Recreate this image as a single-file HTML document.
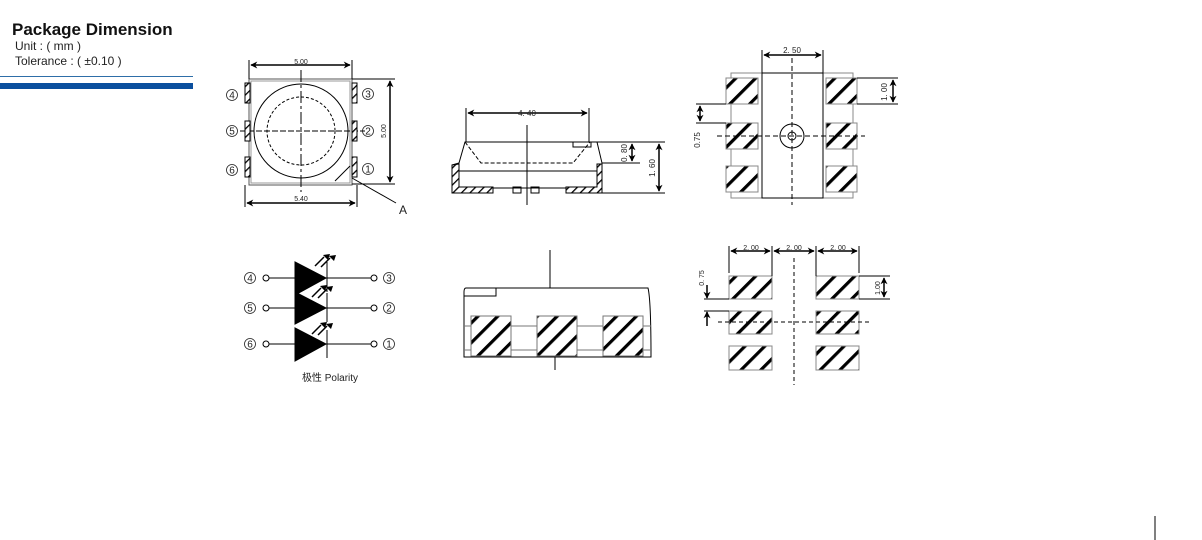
<!DOCTYPE html>
<html><head><meta charset="utf-8"><style>
html,body{margin:0;padding:0;background:#fff;width:1202px;height:540px;overflow:hidden}
svg{display:block}
text{font-family:"Liberation Sans","Noto Sans CJK SC",sans-serif}
</style></head><body>
<svg width="1202" height="540" viewBox="0 0 1202 540" xmlns="http://www.w3.org/2000/svg">
<defs>
<pattern id="h" patternUnits="userSpaceOnUse" width="14" height="14" patternTransform="rotate(45)">
<rect width="14" height="14" fill="#fff"/><rect x="0" y="0" width="3.2" height="14" fill="#000"/>
</pattern>
<pattern id="hs" patternUnits="userSpaceOnUse" width="6" height="6" patternTransform="rotate(45)">
<rect width="6" height="6" fill="#fff"/><rect x="0" y="0" width="1.3" height="6" fill="#000"/>
</pattern>
<marker id="a" viewBox="0 0 10 10" refX="9" refY="5" markerWidth="9" markerHeight="7" markerUnits="userSpaceOnUse" orient="auto-start-reverse"><path d="M0,0 L10,5 L0,10 L3,5z" fill="#000"/></marker>
<marker id="b" viewBox="0 0 10 10" refX="9" refY="5" markerWidth="7" markerHeight="8" markerUnits="userSpaceOnUse" orient="auto-start-reverse"><path d="M0,0 L10,5 L0,10 L3,5z" fill="#000"/></marker>
</defs>
<!-- header -->
<text x="12" y="35" font-size="17" font-weight="bold" fill="#111">Package Dimension</text>
<text x="15" y="50" font-size="12" fill="#222">Unit : ( mm )</text>
<text x="15" y="65" font-size="12" fill="#222">Tolerance : ( ±0.10 )</text>
<rect x="0" y="76" width="193" height="1" fill="#2e6ea8"/>
<rect x="0" y="83" width="193" height="6" fill="#0b4f9e"/>

<g stroke="#000" fill="none" stroke-width="1">
<!-- top view -->
<rect x="249" y="79" width="103" height="106" stroke="#555"/>
<rect x="251" y="81" width="99" height="102" stroke="#999"/>
<circle cx="301" cy="131" r="47"/>
<circle cx="301" cy="131" r="34" stroke-dasharray="3,2"/>
<line x1="301" y1="70" x2="301" y2="192" stroke-dasharray="12,3,3,3"/>
<line x1="240" y1="131" x2="365" y2="131" stroke-dasharray="6,2"/>
<line x1="335" y1="181" x2="350" y2="166"/>
<rect x="245" y="83" width="5" height="20" fill="url(#hs)"/>
<rect x="245" y="121" width="5" height="20" fill="url(#hs)"/>
<rect x="245" y="157" width="5" height="20" fill="url(#hs)"/>
<rect x="352" y="83" width="5" height="20" fill="url(#hs)"/>
<rect x="352" y="121" width="5" height="20" fill="url(#hs)"/>
<rect x="352" y="157" width="5" height="20" fill="url(#hs)"/>
<line x1="249" y1="60" x2="249" y2="79"/><line x1="352" y1="60" x2="352" y2="79"/>
<line x1="251" y1="65" x2="350" y2="65" marker-start="url(#a)" marker-end="url(#a)" stroke-width="1.5"/>
<line x1="352" y1="79" x2="395" y2="79"/><line x1="352" y1="184" x2="395" y2="184"/>
<line x1="390" y1="81" x2="390" y2="182" marker-start="url(#a)" marker-end="url(#a)" stroke-width="1.5"/>
<line x1="245" y1="185" x2="245" y2="207"/><line x1="357" y1="185" x2="357" y2="207"/>
<line x1="247" y1="203" x2="355" y2="203" marker-start="url(#a)" marker-end="url(#a)" stroke-width="1.5"/>
<line x1="352" y1="178" x2="396" y2="203"/>
<!-- side view -->
<line x1="466" y1="108" x2="466" y2="142"/><line x1="589" y1="108" x2="589" y2="142"/>
<line x1="468" y1="113" x2="587" y2="113" marker-start="url(#a)" marker-end="url(#a)" stroke-width="1.5"/>
<path d="M465,142 L597,142 L602,163 L602,193 L566,193 L566,188 L493,188 L493,193 L452,193 L452,165 L459,163 Z"/>
<line x1="455" y1="171" x2="602" y2="171"/>
<path d="M465,142 L481,163 L573,163 L590,142" stroke-dasharray="4,2"/>
<rect x="573" y="142" width="18" height="5"/>
<rect x="513" y="187" width="8" height="6"/><rect x="531" y="187" width="8" height="6"/>
<path d="M452,165 L459,164 L459,187 L493,187 L493,193 L452,193 Z" fill="url(#hs)"/>
<path d="M602,164 L597,164 L597,187 L566,187 L566,193 L602,193 Z" fill="url(#hs)"/>
<line x1="527" y1="125" x2="527" y2="205"/>
<line x1="597" y1="142" x2="665" y2="142"/><line x1="602" y1="163" x2="640" y2="163"/><line x1="602" y1="193" x2="665" y2="193"/>
<line x1="632" y1="144" x2="632" y2="161" marker-start="url(#b)" marker-end="url(#b)" stroke-width="1.5"/>
<line x1="659" y1="144" x2="659" y2="191" marker-start="url(#a)" marker-end="url(#a)" stroke-width="1.5"/>
<!-- top-right footprint -->
<rect x="731" y="73" width="122" height="125" stroke="#888"/>
<rect x="762" y="73" width="61" height="125" fill="#fff"/>
<rect x="726" y="78" width="32" height="26" fill="url(#h)" stroke="#888"/>
<rect x="726" y="123" width="32" height="26" fill="url(#h)" stroke="#888"/>
<rect x="726" y="166" width="32" height="26" fill="url(#h)" stroke="#888"/>
<rect x="826" y="78" width="31" height="26" fill="url(#h)" stroke="#888"/>
<rect x="826" y="123" width="31" height="26" fill="url(#h)" stroke="#888"/>
<rect x="826" y="166" width="31" height="26" fill="url(#h)" stroke="#888"/>
<circle cx="792" cy="136" r="12"/><circle cx="792" cy="136" r="4"/>
<line x1="792" y1="58" x2="792" y2="205" stroke-dasharray="5,3"/>
<line x1="717" y1="136" x2="865" y2="136" stroke-dasharray="5,3"/>
<line x1="762" y1="50" x2="762" y2="73"/><line x1="823" y1="50" x2="823" y2="73"/>
<line x1="764" y1="55" x2="821" y2="55" marker-start="url(#a)" marker-end="url(#a)" stroke-width="1.5"/>
<line x1="857" y1="78" x2="898" y2="78"/><line x1="857" y1="104" x2="898" y2="104"/>
<line x1="893" y1="80" x2="893" y2="102" marker-start="url(#b)" marker-end="url(#b)" stroke-width="1.5"/>
<line x1="696" y1="104" x2="726" y2="104"/><line x1="696" y1="123" x2="726" y2="123"/>
<line x1="700" y1="106" x2="700" y2="121" marker-start="url(#b)" marker-end="url(#b)" stroke-width="1.5"/>
<!-- bottom-right footprint -->
<rect x="729" y="276" width="43" height="23" fill="url(#h)" stroke="#888"/>
<rect x="729" y="311" width="43" height="23" fill="url(#h)" stroke="#888"/>
<rect x="729" y="346" width="43" height="24" fill="url(#h)" stroke="#888"/>
<rect x="816" y="276" width="43" height="23" fill="url(#h)" stroke="#888"/>
<rect x="816" y="311" width="43" height="23" fill="url(#h)" stroke="#888"/>
<rect x="816" y="346" width="43" height="24" fill="url(#h)" stroke="#888"/>
<line x1="794" y1="258" x2="794" y2="385" stroke-dasharray="4,3"/>
<line x1="718" y1="322" x2="870" y2="322" stroke-dasharray="4,3"/>
<line x1="729" y1="246" x2="729" y2="273"/><line x1="772" y1="246" x2="772" y2="276"/><line x1="816" y1="246" x2="816" y2="276"/><line x1="859" y1="246" x2="859" y2="273"/>
<line x1="731" y1="251" x2="770" y2="251" marker-start="url(#a)" marker-end="url(#a)" stroke-width="1.5"/>
<line x1="774" y1="251" x2="814" y2="251" marker-start="url(#a)" marker-end="url(#a)" stroke-width="1.5"/>
<line x1="818" y1="251" x2="857" y2="251" marker-start="url(#a)" marker-end="url(#a)" stroke-width="1.5"/>
<line x1="859" y1="276" x2="890" y2="276"/><line x1="859" y1="299" x2="890" y2="299"/>
<line x1="884" y1="278" x2="884" y2="297" marker-start="url(#b)" marker-end="url(#b)" stroke-width="1.5"/>
<line x1="704" y1="299" x2="729" y2="299"/><line x1="704" y1="311" x2="729" y2="311"/>
<line x1="707" y1="285" x2="707" y2="298" marker-end="url(#a)" stroke-width="1.5"/>
<line x1="707" y1="326" x2="707" y2="312" marker-end="url(#a)" stroke-width="1.5"/>
<!-- bottom middle -->
<line x1="550" y1="250" x2="550" y2="288"/>
<path d="M466,288 L648,288 Q651,300 651,357 L464,357 L464,292 Q464,288 466,288Z"/>
<path d="M464,296 L496,296 L496,288"/>
<line x1="464" y1="326" x2="651" y2="326" stroke="#777"/>
<line x1="464" y1="350" x2="651" y2="350" stroke="#777"/>
<rect x="471" y="316" width="40" height="40" fill="url(#h)" stroke="#777"/>
<rect x="537" y="316" width="40" height="40" fill="url(#h)" stroke="#777"/>
<rect x="603" y="316" width="40" height="40" fill="url(#h)" stroke="#777"/>
<line x1="555" y1="357" x2="555" y2="370"/>
<!-- polarity -->
<line x1="269" y1="278" x2="371" y2="278"/><line x1="269" y1="308" x2="371" y2="308"/><line x1="269" y1="344" x2="371" y2="344"/>
<circle cx="266" cy="278" r="3" fill="#fff"/><circle cx="266" cy="308" r="3" fill="#fff"/><circle cx="266" cy="344" r="3" fill="#fff"/>
<circle cx="374" cy="278" r="3" fill="#fff"/><circle cx="374" cy="308" r="3" fill="#fff"/><circle cx="374" cy="344" r="3" fill="#fff"/>
<path d="M295,262 L326,278 L295,295Z" fill="#000"/>
<path d="M295,292 L326,308 L295,324Z" fill="#000"/>
<path d="M295,328 L326,344 L295,361Z" fill="#000"/>
<line x1="327" y1="262" x2="327" y2="292"/><line x1="327" y1="293" x2="327" y2="322"/><line x1="327" y1="330" x2="327" y2="358"/>
<g stroke-width="1.5"><path d="M315,266 L324,257 M321,267 L330,258 M312,297 L321,288 M318,298 L327,289 M312,334 L321,325 M318,335 L327,326"/></g>
<line x1="1155" y1="516" x2="1155" y2="540"/>
</g>
<g fill="#000">
<path d="M323,255 l7,-1 -2,6z M329,256 l7,-1 -2,6z M320,286 l7,-1 -2,6z M326,287 l7,-1 -2,6z M320,323 l7,-1 -2,6z M326,324 l7,-1 -2,6z"/>
</g>
<g font-size="7" fill="#222" text-anchor="middle">
<text x="301" y="64">5.00</text>
<text x="301" y="201">5.40</text>
<text transform="translate(386,131) rotate(-90)">5.00</text>
<text x="527" y="116" font-size="8">4. 40</text>
<text transform="translate(627,153) rotate(-90)" font-size="8">0. 80</text>
<text transform="translate(655,168) rotate(-90)" font-size="8">1. 60</text>
<text x="792" y="53" font-size="8">2. 50</text>
<text transform="translate(887,92) rotate(-90)" font-size="8">1. 00</text>
<text transform="translate(700,140) rotate(-90)" font-size="8">0.75</text>
<text x="751" y="250">2. 00</text><text x="794" y="250">2. 00</text><text x="838" y="250">2. 00</text>
<text transform="translate(880,288) rotate(-90)">1.00</text>
<text transform="translate(704,278) rotate(-90)">0. 75</text>
</g>
<text x="403" y="214" font-size="12" fill="#222" text-anchor="middle">A</text>
<g font-size="10" fill="#222" text-anchor="middle" stroke="none">
<g fill="none" stroke="#222" stroke-width="0.8">
<circle cx="232" cy="95" r="5.5"/><circle cx="232" cy="131" r="5.5"/><circle cx="232" cy="170" r="5.5"/>
<circle cx="368" cy="94" r="5.5"/><circle cx="368" cy="131" r="5.5"/><circle cx="368" cy="169" r="5.5"/>
<circle cx="250" cy="278" r="5.5"/><circle cx="250" cy="308" r="5.5"/><circle cx="250" cy="344" r="5.5"/>
<circle cx="389" cy="278" r="5.5"/><circle cx="389" cy="308" r="5.5"/><circle cx="389" cy="344" r="5.5"/>
</g>
<text x="232" y="98.5">4</text><text x="232" y="134.5">5</text><text x="232" y="173.5">6</text>
<text x="368" y="97.5">3</text><text x="368" y="134.5">2</text><text x="368" y="172.5">1</text>
<text x="250" y="281.5">4</text><text x="250" y="311.5">5</text><text x="250" y="347.5">6</text>
<text x="389" y="281.5">3</text><text x="389" y="311.5">2</text><text x="389" y="347.5">1</text>
<text x="330" y="381">极性 Polarity</text>
</g>
</svg>
</body></html>
